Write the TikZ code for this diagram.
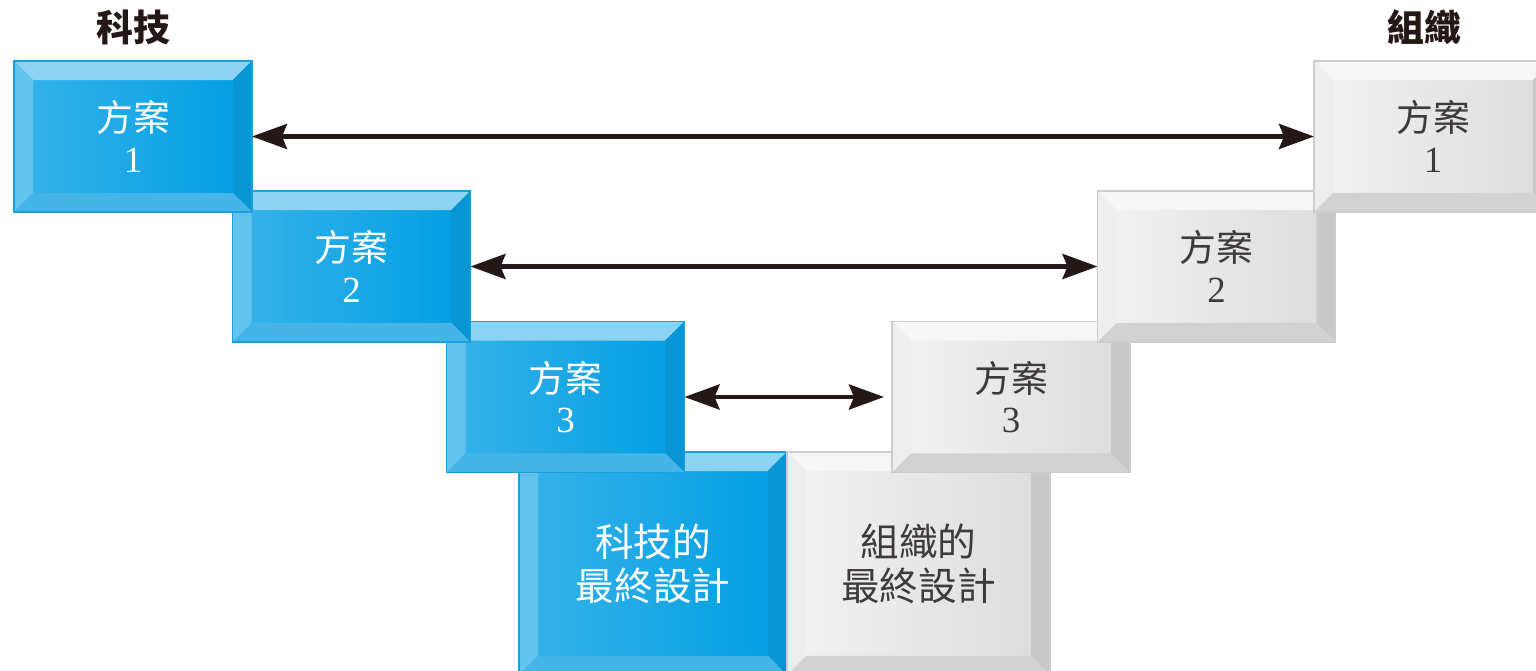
\documentclass[tikz,border=0pt]{standalone}
\usepackage{fontspec}
\setmainfont{Liberation Serif}
\newfontfamily\cjk{Noto Sans CJK TC}
\usetikzlibrary{arrows.meta, positioning, calc}

\definecolor{bluefaceL}{HTML}{38B3EA}
\definecolor{bluefaceR}{HTML}{009EE2}
\definecolor{bluetop}{HTML}{8CD3F4}
\definecolor{blueleft}{HTML}{62C3EF}
\definecolor{blueright}{HTML}{0994D4}
\definecolor{bluebottom}{HTML}{45B5E8}
\definecolor{blueline}{HTML}{1C9FDF}
\definecolor{grayfaceL}{HTML}{F3F3F3}
\definecolor{grayfaceR}{HTML}{DCDCDD}
\definecolor{graytop}{HTML}{F6F6F6}
\definecolor{grayleft}{HTML}{EEEEEE}
\definecolor{grayright}{HTML}{C9C9CA}
\definecolor{graybottom}{HTML}{D2D2D3}
\definecolor{grayline}{HTML}{CDCDCE}
\definecolor{graytext}{HTML}{3E3A39}
\definecolor{arrowink}{HTML}{231815}

\def\bv{19}
% bevelled frame round a node: #1 node, #2 palette (blue or gray)
\newcommand\bevel[2]{%
  \fill[#2top] (#1.north west) -- (#1.north east) -- ($(#1.north east)+(-\bv,\bv)$) -- ($(#1.north west)+(\bv,\bv)$) -- cycle;
  \fill[#2left] (#1.north west) -- ($(#1.north west)+(\bv,\bv)$) -- ($(#1.south west)+(\bv,-\bv)$) -- (#1.south west) -- cycle;
  \fill[#2right] (#1.north east) -- (#1.south east) -- ($(#1.south east)+(-\bv,-\bv)$) -- ($(#1.north east)+(-\bv,\bv)$) -- cycle;
  \fill[#2bottom] (#1.south west) -- ($(#1.south west)+(\bv,-\bv)$) -- ($(#1.south east)+(-\bv,-\bv)$) -- (#1.south east) -- cycle;
  \draw[#2line, line width=0.8pt] (#1.north west) rectangle (#1.south east);
}

\tikzset{
  plate/.style={minimum width=4.76cm, minimum height=3.02cm, inner sep=0pt, outer sep=0pt,
    align=center, font=\fontsize{21}{23}\selectfont},
  techbox/.style={plate, left color=bluefaceL, right color=bluefaceR, text=white},
  orgbox/.style={plate, left color=grayfaceL, right color=grayfaceR, text=graytext},
  finalbox/.style={minimum height=4.46cm, font=\cjk\fontsize{22}{25}\selectfont},
  side/.style={font=\cjk\bfseries\fontsize{21}{24}\selectfont, text=arrowink, inner sep=0pt},
  link/.style={draw=arrowink, line width=2.6pt,
    {Stealth[length=7mm,width=5mm,inset=1mm]}-{Stealth[length=7mm,width=5mm,inset=1mm]}}
}

\begin{document}
\begin{tikzpicture}[x=0.02cm, y=-0.02cm]
  \clip (0,0) rectangle (1536,671);
  \fill[white] (0,0) rectangle (1536,671);

  % final designs
  \node[techbox, finalbox, minimum width=5.36cm] (bf) at (653,563.5) {科技的\\最終設計};
  \bevel{bf}{blue}
  \node[orgbox, finalbox, minimum width=5.26cm] (gf) at (918.5,563.5) {組織的\\最終設計};
  \bevel{gf}{gray}

  % plans, technology side and organisation side
  \node[techbox] (b3) at (565.5,397) {{\cjk 方案}\\3};
  \bevel{b3}{blue}
  \node[orgbox] (g3) at (1011,397) {{\cjk 方案}\\3};
  \bevel{g3}{gray}

  \node[techbox] (b2) at (351.5,266.5) {{\cjk 方案}\\2};
  \bevel{b2}{blue}
  \node[orgbox] (g2) at (1216.5,266.5) {{\cjk 方案}\\2};
  \bevel{g2}{gray}

  \node[techbox] (b1) at (133,136.5) {{\cjk 方案}\\1};
  \bevel{b1}{blue}
  \node[orgbox] (g1) at (1433,136.5) {{\cjk 方案}\\1};
  \bevel{g1}{gray}

  % headings
  \node[side, above=9pt of b1] (tech) {科技};
  \node[side, above=9pt of g1, xshift=-5pt] (org) {組織};

  % matching arrows
  \draw[link] (b1) -- (g1);
  \draw[link] (b2) -- (g2);
  \draw[link, shorten >=0.16cm] (b3) -- (g3);
\end{tikzpicture}
\end{document}
